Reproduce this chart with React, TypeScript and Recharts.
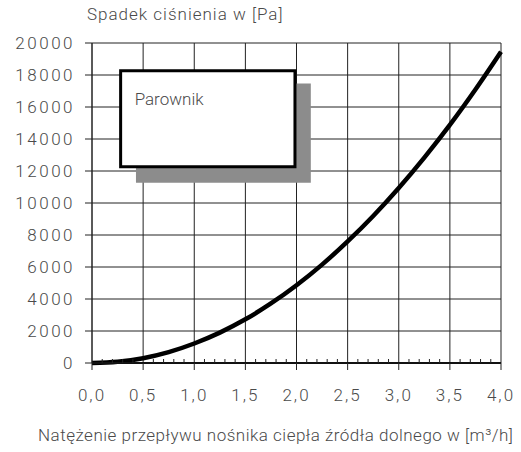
import { CartesianGrid, Line, LineChart, ReferenceArea, XAxis, YAxis } from 'recharts'

// natężenie przepływu [m3/h] vs spadek ciśnienia [Pa]
const flow = [0, 0.25, 0.5, 0.75, 1.0, 1.25, 1.5, 1.75, 2.0, 2.25, 2.5, 2.75, 3.0, 3.25, 3.5, 3.75, 4.0]
const pressureDrop = [0, 75, 300, 680, 1220, 1900, 2730, 3720, 4860, 6150, 7600, 9190, 10940, 12840, 14880, 17090, 19450]

const xTicks = [0, 0.5, 1, 1.5, 2, 2.5, 3, 3.5, 4]
const yTicks = [0, 2000, 4000, 6000, 8000, 10000, 12000, 14000, 16000, 18000, 20000]
const xMinorTicks = [0.1, 0.2, 0.3, 0.4, 0.6, 0.7, 0.8, 0.9, 1.1, 1.2, 1.3, 1.4, 1.6, 1.7, 1.8, 1.9, 2.1, 2.2, 2.3, 2.4, 2.6, 2.7, 2.8, 2.9, 3.1, 3.2, 3.3, 3.4, 3.6, 3.7, 3.8, 3.9]
const yMinorTicks = [1000, 3000, 5000, 7000, 9000, 11000, 13000, 15000, 17000, 19000]

const yTitle = 'Spadek ciśnienia w [Pa]'
const xTitle = 'Natężenie przepływu nośnika ciepła źródła dolnego w [m³/h]'
const boxLabel = 'Parownik'

const data = flow.map((q, i) => ({ q, dp: pressureDrop[i] }))

const font = "Roboto, 'Liberation Sans', sans-serif"
const textColor = '#4a4a4a'

const fmtX = (v: number) => v.toFixed(1).replace('.', ',')

const xTickStyle = { fontSize: 17, fill: textColor, fontWeight: 300, fontFamily: font, letterSpacing: 2 }
const yTickStyle = { ...xTickStyle, letterSpacing: 2.5 }

export default function App() {
  return (
    <div style={{ position: 'absolute', left: 0, top: 0, width: 521, height: 452, background: '#fff', fontFamily: font }}>
      <div style={{ position: 'absolute', left: 87, top: 4, fontSize: 17, fontWeight: 300, letterSpacing: 1, color: textColor, whiteSpace: 'nowrap' }}>
        {yTitle}
      </div>
      <LineChart width={521} height={452} data={data} margin={{ top: 43, right: 20, left: 0, bottom: 0 }}>
        <CartesianGrid stroke="#222" strokeWidth={1} />
        <XAxis
          dataKey="q"
          type="number"
          domain={[0, 4]}
          ticks={xTicks}
          tickFormatter={fmtX}
          height={89}
          tickSize={7}
          tickMargin={19}
          interval={0}
          axisLine={{ stroke: '#111', strokeWidth: 2 }}
          tickLine={{ stroke: '#222' }}
          tick={xTickStyle}
        />
        <XAxis
          xAxisId="minor"
          dataKey="q"
          type="number"
          domain={[0, 4]}
          ticks={xMinorTicks}
          interval={0}
          mirror
          tickSize={4}
          axisLine={false}
          tickLine={{ stroke: '#222' }}
          tick={() => <g />}
        />
        <YAxis
          type="number"
          domain={[0, 20000]}
          ticks={yTicks}
          interval={0}
          width={92}
          tickSize={7}
          tickMargin={10}
          axisLine={{ stroke: '#222' }}
          tickLine={{ stroke: '#222' }}
          tick={yTickStyle}
        />
        <YAxis
          yAxisId="minor"
          type="number"
          domain={[0, 20000]}
          ticks={yMinorTicks}
          interval={0}
          mirror
          tickSize={4}
          axisLine={false}
          tickLine={{ stroke: '#222' }}
          tick={() => <g />}
        />
        <ReferenceArea x1={0.43} x2={2.14} y1={11270} y2={17470} fill="#8c8c8c" fillOpacity={1} stroke="none" ifOverflow="visible" />
        <ReferenceArea
          x1={0.28}
          x2={1.985}
          y1={12270}
          y2={18270}
          fill="#fff"
          fillOpacity={1}
          stroke="#000"
          strokeWidth={3}
          ifOverflow="visible"
          label={{ value: boxLabel, position: 'insideTopLeft', offset: 14, fontSize: 17, fill: textColor, fontWeight: 300, fontFamily: font, dy: 8 }}
        />
        <Line
          dataKey="dp"
          type="monotone"
          stroke="#000"
          strokeWidth={4.5}
          dot={false}
          isAnimationActive={false}
        />
      </LineChart>
      <div style={{ position: 'absolute', left: 38, top: 425, fontSize: 17, fontWeight: 300, letterSpacing: 0.5, color: textColor, whiteSpace: 'nowrap' }}>
        {xTitle}
      </div>
    </div>
  )
}
